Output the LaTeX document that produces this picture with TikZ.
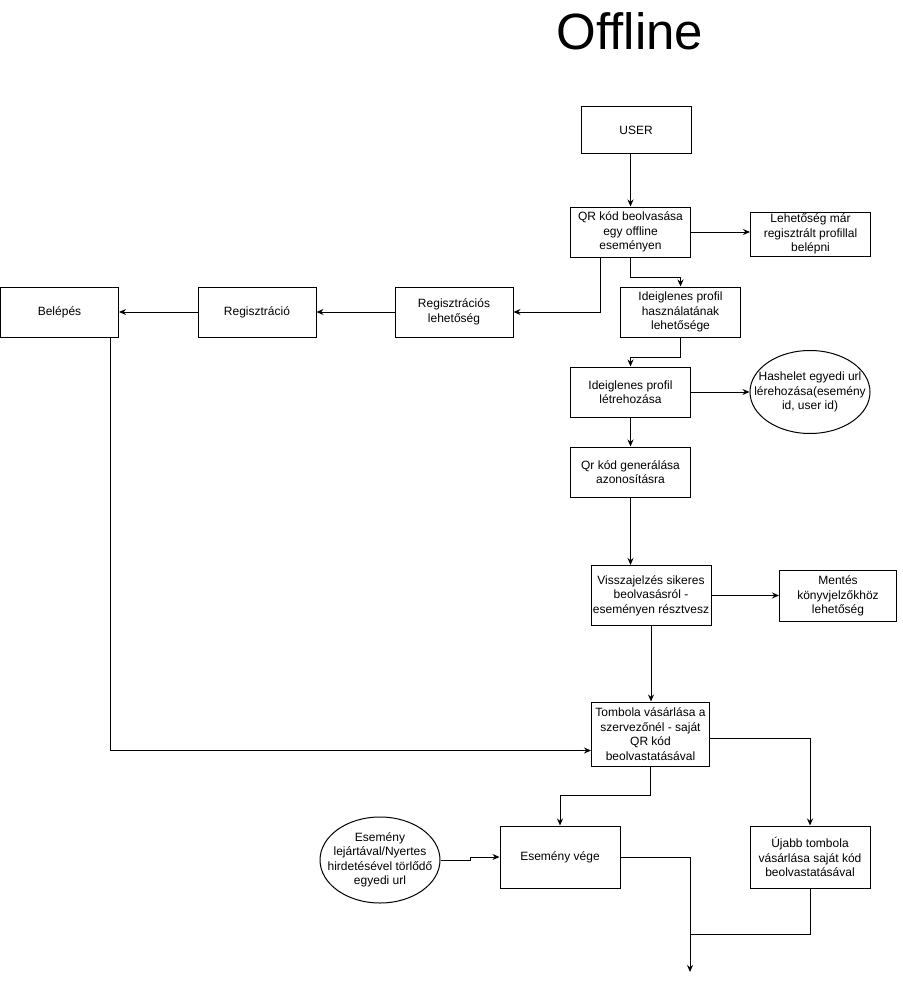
\documentclass[tikz,border=0pt]{standalone}
\usepackage{fontspec}
\setmainfont{Liberation Sans}
\usetikzlibrary{arrows.meta,shapes.geometric}

\begin{document}
\begin{tikzpicture}[x=1pt, y=-1pt, line width=1pt,
        box/.style={draw, rectangle, minimum width=120pt, minimum height=50pt, inner sep=0pt, align=center, font=\fontsize{12}{14.5}\selectfont},
        oval/.style={draw, ellipse, minimum width=120pt, minimum height=84pt, inner sep=0pt},
        ovaltext/.style={align=center, font=\fontsize{12}{14.5}\selectfont},
        arr/.style={-{Stealth[length=7pt,width=6pt]}}]
        \useasboundingbox (0,0) rectangle (902,987);

        \node[anchor=base, font=\fontsize{51}{60}\selectfont] (title) at (630,50) {Offline};

        \node[box, minimum width=110pt, minimum height=47pt] (user) at (636,130.5) {USER};
        \node[box] (qr) at (630.5,232) {QR kód beolvasása\\egy offline\\eseményen};
        \node[box, minimum height=44pt] (lehet) at (810.5,234) {Lehetőség már\\regisztrált profillal\\belépni};
        \node[box] (ideighaszn) at (680.5,312) {Ideiglenes profil\\használatának\\lehetősége};
        \node[box, minimum width=118pt] (reglehet) at (454,312) {Regisztrációs\\lehetőség};
        \node[box, minimum width=118pt] (reg) at (257,312) {Regisztráció};
        \node[box, minimum width=118pt] (belep) at (59.5,312) {Belépés};
        \node[box] (ideiglet) at (630.5,392) {Ideiglenes profil\\létrehozása};
        \node[oval, minimum height=83pt, label={[ovaltext]center:Hashelet egyedi url\\lérehozása(esemény\\id, user id)}] (hash) at (810,392) {};
        \node[box] (qrgen) at (630.5,472) {Qr kód generálása\\azonosításra};
        \node[box, minimum height=60pt] (vissza) at (651,595.5) {Visszajelzés sikeres\\beolvasásról -\\eseményen résztvesz};
        \node[box, minimum width=117pt, minimum height=51pt] (mentes) at (838,596) {Mentés\\könyvjelzőkhöz\\lehetőség};
        \node[box, minimum width=118pt, minimum height=64pt] (tombola) at (650.5,734) {Tombola vásárlása a\\szervezőnél - saját\\QR kód\\beolvastatásával};
        \node[box, minimum height=62pt] (vege) at (560,857) {Esemény vége};
        \node[box, minimum height=62pt] (ujabb) at (810,857) {Újabb tombola\\vásárlása saját kód\\beolvastatásával};
        \node[oval, minimum height=86pt, label={[ovaltext]center:Esemény\\lejártával/Nyertes\\hirdetésével törlődő\\egyedi url}] (torl) at (380,860) {};

        \coordinate (vegpont) at (690,972);
        \coordinate (csatl) at (690,934);

        % felso resz
        \draw[arr] (user.south -| qr.north) -- (qr.north);
        \draw[arr] (qr.east) -- (qr.east -| lehet.west);
        \draw[arr] ([xshift=-30pt]qr.south) |- (reglehet.east);
        \draw[arr] (qr.south) -- ++(0,20) -| (ideighaszn.north);
        \draw[arr] (reglehet.west) -- (reg.east);
        \draw[arr] (reg.west) -- (belep.east);
        \draw[arr] (ideighaszn.south) -- ++(0,20) -| (ideiglet.north);
        \draw[arr] (ideiglet.east) -- (hash.west);
        \draw[arr] (ideiglet.south) -- (qrgen.north);
        \draw[arr] (qrgen.south) -- (qrgen.south |- vissza.north);
        \draw[arr] (vissza.east) -- (vissza.east -| mentes.west);
        \draw[arr] (vissza.south) -- (vissza.south |- tombola.north);
        \draw[arr] ([xshift=51pt]belep.south) |- ([yshift=-16.5pt]tombola.west);

        % also resz
        \draw[arr] (tombola.south) -- ++(0,29) -| (vege.north);
        \draw[arr] ([yshift=-4pt]tombola.east) -| (ujabb.north);
        \draw[arr] (torl.east) -- ++(30,0) |- (vege.west);
        \draw[arr] (vege.east) -| (vegpont);
        \draw (ujabb.south) |- (csatl);
    \end{tikzpicture}
\end{document}
